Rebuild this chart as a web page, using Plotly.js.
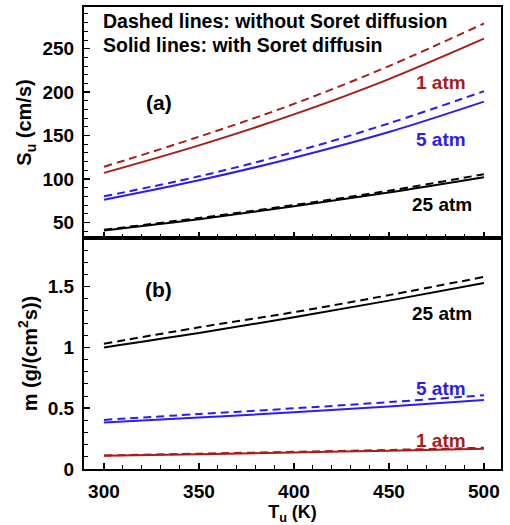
<!DOCTYPE html>
<html>
<head>
<meta charset="utf-8">
<script src="https://cdn.plot.ly/plotly-3.0.1.min.js"></script>
<style>html,body{margin:0;padding:0;background:#fff;}#chart{width:510px;height:525px;}</style>
</head>
<body>
<div id="chart"></div>
<script>
// Unburned temperature (K)
const T = [300, 350, 400, 450, 500];
// Panel (a): laminar flame speed S_u (cm/s)
const su1Dashed  = [114, 148.6, 186.4, 230, 279];
const su1Solid   = [107, 138.7, 174.3, 215, 261.5];
const su5Dashed  = [80, 103, 131, 164, 201];
const su5Solid   = [76, 98.4, 124.4, 154, 189];
const su25Dashed = [41.5, 55, 70, 86.5, 105.5];
const su25Solid  = [40.5, 53.5, 68.5, 84.5, 102];
// Panel (b): mass burning rate m (g/(cm^2 s))
const m1Dashed  = [0.112, 0.126, 0.141, 0.157, 0.175];
const m1Solid   = [0.109, 0.122, 0.136, 0.151, 0.166];
const m5Dashed  = [0.404, 0.452, 0.499, 0.550, 0.607];
const m5Solid   = [0.383, 0.424, 0.466, 0.515, 0.568];
const m25Dashed = [1.03, 1.165, 1.29, 1.43, 1.58];
const m25Solid  = [1.00, 1.118, 1.248, 1.385, 1.53];

const RED = '#a81c1c', BLUE = '#2d1cf0', BLACK = '#000000';
const FONT = 'Liberation Sans, Arial, sans-serif';

function tr(y, color, dashed, xa, ya) {
  return {x: T, y: y, xaxis: xa, yaxis: ya, mode: 'lines', hoverinfo: 'skip',
    line: {color: color, width: 2, shape: 'spline', dash: dashed ? '8px,5px' : 'solid'}};
}
const data = [
  tr(su1Dashed, RED, true, 'x', 'y'), tr(su1Solid, RED, false, 'x', 'y'),
  tr(su5Dashed, BLUE, true, 'x', 'y'), tr(su5Solid, BLUE, false, 'x', 'y'),
  tr(su25Dashed, BLACK, true, 'x', 'y'), tr(su25Solid, BLACK, false, 'x', 'y'),
  tr(m1Dashed, RED, true, 'x2', 'y2'), tr(m1Solid, RED, false, 'x2', 'y2'),
  tr(m5Dashed, BLUE, true, 'x2', 'y2'), tr(m5Solid, BLUE, false, 'x2', 'y2'),
  tr(m25Dashed, BLACK, true, 'x2', 'y2'), tr(m25Solid, BLACK, false, 'x2', 'y2')
];

const tickfont = {family: FONT, size: 19, color: '#000', weight: 'bold'};
const ytitlefont = {family: FONT, size: 20, color: '#000', weight: 'bold'};
const xtitlefont = {family: FONT, size: 18, color: '#000', weight: 'bold'};
const xcommon = {range: [289.5, 509], dtick: 50, tick0: 300, ticks: 'inside', ticklen: 6, tickwidth: 1.5,
  tickcolor: '#000', showline: true, linewidth: 2, linecolor: '#000', mirror: true, showgrid: false,
  zeroline: false, tickfont: tickfont, ticklabelstandoff: 4,
  minor: {dtick: 10, ticks: 'inside', ticklen: 4, tickwidth: 1, tickcolor: '#000', showgrid: false}};
const ycommon = {ticks: 'inside', ticklen: 6, tickwidth: 1.5, tickcolor: '#000', showline: true,
  linewidth: 2, linecolor: '#000', mirror: true, showgrid: false, zeroline: false, tickfont: tickfont,
  ticklabelstandoff: 4};

function ann(text, x, y, xref, yref, color, size, xanchor) {
  return {text: text, x: x, y: y, xref: xref, yref: yref, showarrow: false, xanchor: xanchor || 'left',
    yanchor: 'middle', font: {family: FONT, size: size, color: color, weight: 'bold'}};
}

const layout = {
  width: 510, height: 525, margin: {l: 84, r: 9, t: 7, b: 56},
  paper_bgcolor: '#fff', plot_bgcolor: '#fff', showlegend: false,
  xaxis: Object.assign({}, xcommon, {anchor: 'y', showticklabels: false}),
  xaxis2: Object.assign({}, xcommon, {anchor: 'y2', title: {text: 'T<sub>u</sub> (K)', font: xtitlefont, standoff: 2}}),
  yaxis: Object.assign({}, ycommon, {domain: [0.5, 1], range: [32, 298], tickvals: [50, 100, 150, 200, 250],
    minor: {dtick: 10, tick0: 0, ticks: 'inside', ticklen: 4, tickwidth: 1, tickcolor: '#000', showgrid: false},
    title: {text: 'S<sub>u</sub> (cm/s)', font: ytitlefont, standoff: 5}}),
  yaxis2: Object.assign({}, ycommon, {domain: [0, 0.5], range: [0, 1.9], tickvals: [0, 0.5, 1, 1.5],
    ticktext: ['0', '0.5', '1', '1.5'],
    minor: {dtick: 0.1, tick0: 0, ticks: 'inside', ticklen: 4, tickwidth: 1, tickcolor: '#000', showgrid: false},
    title: {text: 'm (g/(cm<sup>2</sup>s))', font: ytitlefont, standoff: 5}}),
  annotations: [
    ann('Dashed lines: without Soret diffusion', 298.3, 282, 'x', 'y', '#000', 19.5),
    ann('Solid lines: with Soret diffusin', 298.3, 254.6, 'x', 'y', '#000', 19.5),
    ann('(a)', 328.8, 187.8, 'x', 'y', '#000', 21, 'center'),
    ann('1 atm', 463, 211, 'x', 'y', RED, 19),
    ann('5 atm', 463, 146, 'x', 'y', BLUE, 19),
    ann('25 atm', 461, 71, 'x', 'y', '#000', 19),
    ann('(b)', 328.8, 1.475, 'x2', 'y2', '#000', 21, 'center'),
    ann('25 atm', 461, 1.276, 'x2', 'y2', '#000', 19),
    ann('5 atm', 463, 0.661, 'x2', 'y2', BLUE, 19),
    ann('1 atm', 463, 0.238, 'x2', 'y2', RED, 19)
  ]
};
Plotly.newPlot('chart', data, layout, {displayModeBar: false, staticPlot: true});
</script>
</body>
</html>
